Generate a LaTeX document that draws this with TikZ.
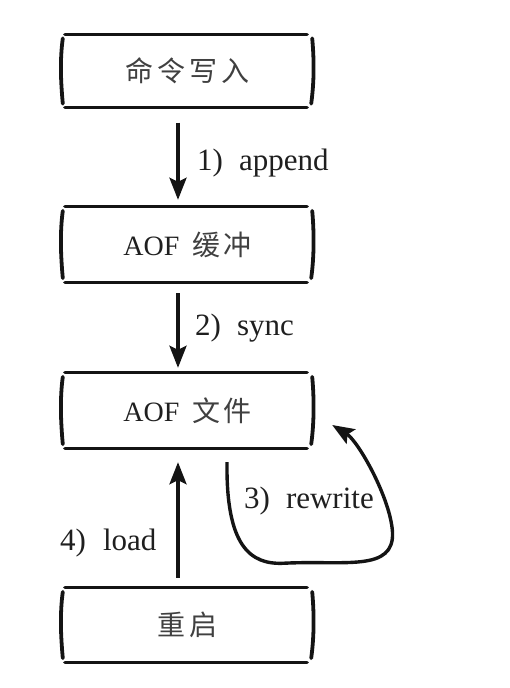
\documentclass[tikz,border=0pt]{standalone}
\usepackage{fontspec}
\setmainfont{Liberation Serif}
\newfontfamily\cjk{Noto Sans CJK SC}
\usetikzlibrary{arrows.meta}
\tikzset{
  box/.style={draw=none, minimum width=251pt, inner sep=0pt, text=black!88},
  hl/.style={line width=3.2pt, line cap=round, black!92},
  vl/.style={line width=3.8pt, line cap=round, black!92},
  arr/.style={line width=3.4pt, black!92, -{Stealth[length=22pt,width=17pt,inset=4pt]}},
  lbl/.style={anchor=base west, inner sep=0pt, text=black!88, font=\fontsize{31pt}{36pt}\selectfont},
  ctxt/.style={font=\fontsize{28pt}{32pt}\selectfont}
}
\newcommand{\boxdecor}[1]{%
  \draw[hl] ([shift={(3,0)}]#1.north west) -- ([shift={(-6,0)}]#1.north east);
  \draw[hl] ([shift={(3,0)}]#1.south west) -- ([shift={(-6,0)}]#1.south east);
  \draw[vl] ([shift={(1,4)}]#1.north west) .. controls +(-3,22) and +(-2,-22) .. ([shift={(1,-4)}]#1.south west);
  \draw[vl] ([shift={(-1,4)}]#1.north east) .. controls +(2,22) and +(3,-22) .. ([shift={(-2,-4)}]#1.south east);
}
\newcommand{\zh}[1]{{\cjk\fontsize{28pt}{32pt}\selectfont\color{black!75}#1}}
\begin{document}
\begin{tikzpicture}[x=1pt,y=-1pt]
\useasboundingbox (0,0) rectangle (510,688);
\node[box, minimum height=73pt, ctxt] (cmd) at (187.5,71) {\zh{命\hspace{4pt}令\hspace{4pt}写\hspace{4pt}入}};
\node[box, minimum height=75pt, ctxt] (buf) at (187.5,244.5) {AOF\hspace{13pt}\zh{缓\hspace{3pt}冲}};
\node[box, minimum height=75pt, ctxt] (aof) at (187.5,410.5) {AOF\hspace{13pt}\zh{文\hspace{3pt}件}};
\node[box, minimum height=74pt, ctxt] (rst) at (187.5,625) {\zh{重\hspace{4pt}启}};
\boxdecor{cmd}
\boxdecor{buf}
\boxdecor{aof}
\boxdecor{rst}
\draw[arr, shorten <=15pt, shorten >=7pt] ([xshift=-9.5pt]cmd.south) -- ([xshift=-9.5pt]buf.north);
\draw[arr, shorten <=11pt, shorten >=5pt] ([xshift=-9.5pt]buf.south) -- ([xshift=-9.5pt]aof.north);
\draw[arr, shorten <=10pt, shorten >=14pt] ([xshift=-9.5pt]rst.north) -- ([xshift=-9.5pt]aof.south);
\coordinate (rwA) at ([shift={(39.5,14)}]aof.south);
\coordinate (rwB) at ([shift={(19,14.5)}]aof.east);
\draw[arr] (rwA) .. controls +(-1,83) and +(-35,2) .. ([shift={(97,115)}]aof.south)
  .. controls +(60,-3) and +(2,40) .. ([shift={(205,84)}]aof.south)
  .. controls +(-2,-34) and +(26,16) .. (rwB);
\node[lbl] (l1) at (197,170) {1)\hspace{16pt}append};
\node[lbl] (l2) at (195,335) {2)\hspace{16pt}sync};
\node[lbl] (l3) at (244,508) {3)\hspace{16pt}rewrite};
\node[lbl] (l4) at (60,550) {4)\hspace{17pt}load};
\end{tikzpicture}
\end{document}
